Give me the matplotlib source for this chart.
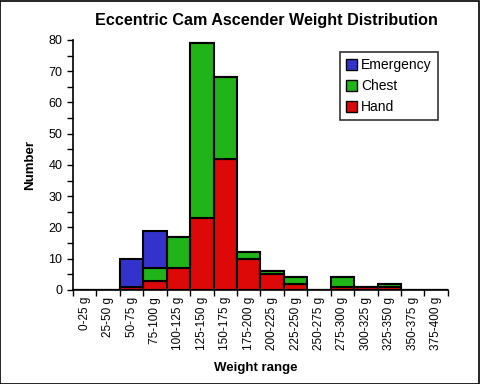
import matplotlib.pyplot as plt
import numpy as np
from matplotlib.patches import Rectangle

plt.rcParams['font.family'] = ['Liberation Sans', 'DejaVu Sans']

bins = ['0-25 g', '25-50 g', '50-75 g', '75-100 g', '100-125 g', '125-150 g',
        '150-175 g', '175-200 g', '200-225 g', '225-250 g', '250-275 g',
        '275-300 g', '300-325 g', '325-350 g', '350-375 g', '375-400 g']
hand = [0, 0, 1, 3, 7, 23, 42, 10, 5, 2, 0, 1, 1, 1, 0, 0]
chest = [0, 0, 0, 4, 10, 56, 26, 2, 1, 2, 0, 3, 0, 1, 0, 0]
emergency = [0, 0, 9, 12, 0, 0, 0, 0, 0, 0, 0, 0, 0, 0, 0, 0]

c_hand = '#dd0808'
c_chest = '#20b418'
c_emerg = '#3333cc'

fig = plt.figure(figsize=(4.8, 3.84), dpi=100)
ax = fig.add_axes([0.152, 0.245, 0.781, 0.651])

x = np.arange(len(bins))
hand = np.array(hand)
chest = np.array(chest)
emergency = np.array(emergency)
kw = dict(width=1.0, align='edge', edgecolor='black', linewidth=1.5)
b_h = ax.bar(x, hand, color=c_hand, label='Hand', **kw)
b_c = ax.bar(x, chest, bottom=hand, color=c_chest, label='Chest', **kw)
b_e = ax.bar(x, emergency, bottom=hand + chest, color=c_emerg, label='Emergency', **kw)

ax.set_xlim(0, len(bins))
ax.set_ylim(0, 80)
ax.set_xticks(np.arange(len(bins) + 1))
ax.set_xticklabels([])
ax.set_xticks(x + 0.5, minor=True)
ax.set_xticklabels(bins, minor=True, rotation=90, fontsize=8.5)
ax.tick_params(axis='x', which='minor', length=0, pad=5)
ax.tick_params(axis='x', which='major', length=4, width=1, direction='out')
ax.set_yticks(np.arange(0, 81, 10))
ax.set_yticks(np.arange(0, 81, 5), minor=True)
ax.tick_params(axis='y', which='both', length=4, width=1, labelsize=9)

for s in ['top', 'right']:
    ax.spines[s].set_visible(False)
for s in ['left', 'bottom']:
    ax.spines[s].set_linewidth(1.2)

ax.set_title('Eccentric Cam Ascender Weight Distribution', fontsize=11.6,
             fontweight='bold', pad=11, x=0.515)
ax.set_ylabel('Number', fontsize=9.5, fontweight='bold', labelpad=9)
ax.set_xlabel('Weight range', fontsize=9.5, fontweight='bold', labelpad=9)
ax.xaxis.set_label_coords(0.487, -0.29)

leg = ax.legend(handles=[b_e, b_c, b_h], loc='upper right',
                bbox_to_anchor=(0.973, 0.952), borderaxespad=0,
                fontsize=10, frameon=True,
                fancybox=False, edgecolor='black', handlelength=0.8,
                handleheight=0.8, handletextpad=0.25, borderpad=0.45,
                labelspacing=0.5)
leg.get_frame().set_linewidth(1.2)
for h in leg.legend_handles:
    h.set_linewidth(1.0)

fig.patches.append(Rectangle((0.001, 0.001), 0.997, 0.997, transform=fig.transFigure,
                             fill=False, edgecolor='black', linewidth=1.2))

fig.savefig('out.png', dpi=100)
